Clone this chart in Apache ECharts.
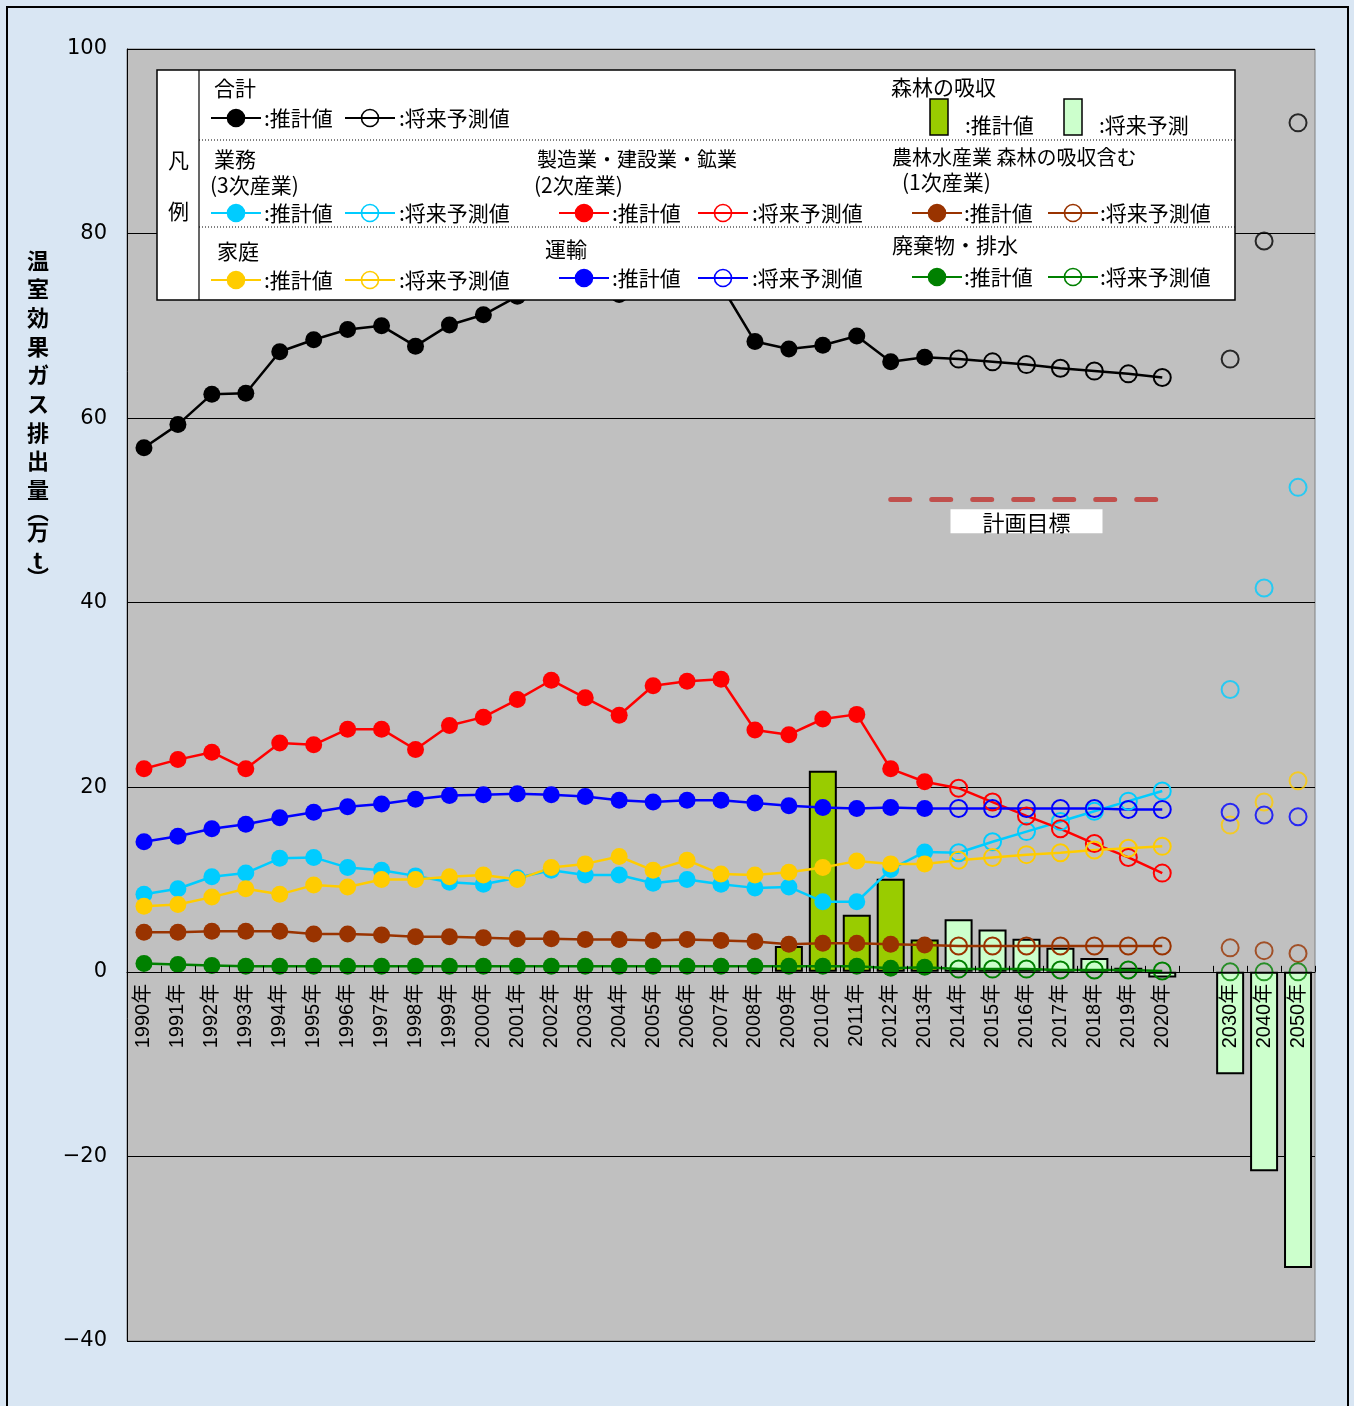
<!DOCTYPE html>
<html><head><meta charset="utf-8">
<script src="https://cdn.jsdelivr.net/npm/echarts@6/dist/echarts.min.js"></script>
<style>html,body{margin:0;padding:0;background:#d9e6f3}#c{width:1354px;height:1406px}</style>
</head><body><div id="c"></div><script>
// ---- data ----
const years = ['1990年','1991年','1992年','1993年','1994年','1995年','1996年','1997年','1998年','1999年',
  '2000年','2001年','2002年','2003年','2004年','2005年','2006年','2007年','2008年','2009年',
  '2010年','2011年','2012年','2013年','2014年','2015年','2016年','2017年','2018年','2019年','2020年',
  '','2030年','2040年','2050年'];
const total = [56.8,59.3,62.6,62.7,67.2,68.5,69.6,70.0,67.8,70.1,71.2,73.2,77.3,75.0,73.4,74.0,76.3,74.4,68.3,67.5,67.9,68.9,66.1,66.6,
  66.4,66.1,65.8,65.4,65.1,64.8,64.4, null,66.4,79.2,92.0];
const commercial = [8.4,9.0,10.3,10.7,12.3,12.4,11.3,11.0,10.4,9.7,9.5,10.2,11.0,10.5,10.5,9.6,10.0,9.5,9.1,9.2,7.6,7.6,11.1,13.0,
  12.9,14.1,15.2,16.3,17.4,18.5,19.6, null,30.6,41.6,52.5];
const manufacturing = [22.0,23.0,23.8,22.0,24.8,24.6,26.3,26.3,24.1,26.7,27.6,29.5,31.6,29.7,27.8,31.0,31.5,31.7,26.2,25.7,27.4,27.9,22.0,20.6,
  19.9,18.4,16.9,15.5,13.9,12.4,10.7, null,null,null,null];
const agriculture = [4.3,4.3,4.4,4.4,4.4,4.1,4.1,4.0,3.8,3.8,3.7,3.6,3.6,3.5,3.5,3.4,3.5,3.4,3.3,3.0,3.1,3.1,3.0,2.9,
  2.8,2.8,2.8,2.8,2.8,2.8,2.8, null,2.6,2.3,2.0];
const household = [7.1,7.3,8.1,9.0,8.4,9.4,9.2,10.0,10.0,10.3,10.5,10.0,11.3,11.7,12.5,11.0,12.1,10.6,10.5,10.8,11.3,12.0,11.7,11.7,
  12.1,12.4,12.7,12.9,13.2,13.4,13.6, null,15.9,18.4,20.7];
const transport = [14.1,14.7,15.5,16.0,16.7,17.3,17.9,18.2,18.7,19.1,19.2,19.3,19.2,19.0,18.6,18.4,18.6,18.6,18.3,18.0,17.8,17.7,17.8,17.7,
  17.7,17.7,17.7,17.7,17.7,17.6,17.6, null,17.3,17.0,16.8];
const waste = [0.9,0.8,0.7,0.6,0.6,0.6,0.6,0.6,0.6,0.6,0.6,0.6,0.6,0.6,0.6,0.6,0.6,0.6,0.6,0.6,0.6,0.6,0.4,0.5,
  0.3,0.3,0.3,0.2,0.2,0.2,0.1, null,0,0,0];
const forest = [null,null,null,null,null,null,null,null,null,null,null,null,null,null,null,null,null,null,null,
  2.8,21.8,6.2,10.1,3.5, 5.7,4.6,3.6,2.6,1.5,0.45,-0.6, null,-11.1,-21.6,-32.1];
const target = 51.2;
const targetFrom = '2012年', targetTo = '2020年';
const yMin = -40, yMax = 100, yStep = 20;
const lastEstimate = 23; // index of 2013年
const lastNear = 30;     // index of 2020年
const farStart = 32;     // index of 2030年

// ---- layout ----
const GRID = {left:127, right:39, top:49, bottom:65};
const plotH = 1406 - GRID.top - GRID.bottom;
const zeroOffset = -plotH * (0 - yMin) / (yMax - yMin);

// ---- styles ----
const sectors = [
  {name:'合計', data: total, color:'#000000'},
  {name:'業務', data: commercial, color:'#00ccff'},
  {name:'製造業・建設業・鉱業', data: manufacturing, color:'#ff0000'},
  {name:'農林水産業', data: agriculture, color:'#993300'},
  {name:'家庭', data: household, color:'#ffcc00'},
  {name:'運輸', data: transport, color:'#0000ff'},
  {name:'廃棄物・排水', data: waste, color:'#008000'}
];
const series = [];
series.push({
  type:'bar', name:'森林の吸収', z:2, barWidth:28,
  data: forest.map((v,i)=> v==null ? null : {value:v, itemStyle:{color: i<=lastEstimate ? '#99cc00' : '#ccffcc'}}),
  itemStyle:{borderColor:'#000', borderWidth:2},
  markLine:{silent:true, symbol:['none','none'], z:5,
    lineStyle:{color:'#c0504d', width:5, type:[19,22], cap:'round'},
    label:{show:true, position:'insideMiddleBottom', formatter:'計画目標', backgroundColor:'#fff', color:'#000',
      fontSize:22, fontFamily:'Noto Sans CJK JP', padding:[2,32,0,32], distance:10},
    data:[[{coord:[targetFrom,target]},{coord:[targetTo,target]}]]}
});
sectors.forEach((s,k)=>{
  series.push({
    type:'line', name:s.name+'推計値', z:6, showAllSymbol:true, symbol:'circle', symbolSize:17,
    data: s.data.map((v,i)=> i<=lastEstimate ? v : null),
    itemStyle:{color:s.color}, lineStyle:{color:s.color, width:2.5}
  });
  series.push({
    type:'line', name:s.name+'将来予測値', z:5, showAllSymbol:true, symbol:'circle', symbolSize:17,
    data: s.data.map((v,i)=> (i>=lastEstimate && i<=lastNear) ? (i===lastEstimate ? {value:v, symbol:'none'} : v) : null),
    itemStyle:{color:'rgba(0,0,0,0)', borderColor:s.color, borderWidth:2},
    lineStyle:{color:s.color, width:2.5}
  });
  series.push({
    type:'scatter', name:s.name+'長期', z:5, symbol:'circle', symbolSize:17,
    data: s.data.map((v,i)=> i>=farStart ? v : null),
    itemStyle:{color:'rgba(0,0,0,0)', borderColor:s.color, borderWidth:2}
  });
});

// ---- legend & decorations (graphic) ----
const G = [];
const FONT = '21px "Noto Sans CJK JP"';
function txt(x,y,s,font){ G.push({type:'text', x:x, y:y, z:101, style:{text:s, fill:'#000', font:font||FONT, align:'left', verticalAlign:'middle'}}); }
function sample(cx,cy,color,filled){
  G.push({type:'line', z:101, shape:{x1:cx-25,y1:cy,x2:cx+25,y2:cy}, style:{stroke:color, lineWidth:2}});
  G.push({type:'circle', z:102, shape:{cx:cx,cy:cy,r:8.5}, style:{fill: filled?color:'none', stroke:color, lineWidth:1.6}});
}
G.push({type:'rect', z:100, shape:{x:157,y:70,width:1078,height:230}, style:{fill:'#fff', stroke:'#000', lineWidth:1.5}});
G.push({type:'line', z:101, shape:{x1:199,y1:70,x2:199,y2:300}, style:{stroke:'#000', lineWidth:1.2}});
G.push({type:'line', z:101, shape:{x1:199,y1:140,x2:1235,y2:140}, style:{stroke:'#000', lineWidth:1, lineDash:[1,2]}});
G.push({type:'line', z:101, shape:{x1:199,y1:227,x2:1235,y2:227}, style:{stroke:'#000', lineWidth:1, lineDash:[1,2]}});
txt(168,160,'凡'); txt(168,211,'例');
// row 1
txt(214,88,'合計');
sample(236,118,'#000',true); txt(264,118,':推計値');
sample(370,118,'#000',false); txt(399,118,':将来予測値');
txt(891,87,'森林の吸収');
G.push({type:'rect', z:101, shape:{x:930,y:99,width:18,height:36}, style:{fill:'#99cc00', stroke:'#000', lineWidth:1.5}});
txt(965,125,':推計値');
G.push({type:'rect', z:101, shape:{x:1064,y:99,width:18,height:36}, style:{fill:'#ccffcc', stroke:'#000', lineWidth:1.5}});
txt(1099,125,':将来予測');
// row 2
txt(214,159,'業務'); txt(210,185,'(3次産業)');
sample(236,213,'#00ccff',true); txt(264,213,':推計値');
sample(370,213,'#00ccff',false); txt(399,213,':将来予測値');
txt(537,159,'製造業・建設業・鉱業','20px "Noto Sans CJK JP"'); txt(534,185,'(2次産業)');
sample(584,213,'#ff0000',true); txt(612,213,':推計値');
sample(723,213,'#ff0000',false); txt(752,213,':将来予測値');
txt(892,157,'農林水産業 森林の吸収含む','20px "Noto Sans CJK JP"'); txt(902,182,'(1次産業)');
sample(937,213,'#993300',true); txt(964,213,':推計値');
sample(1073,213,'#993300',false); txt(1100,213,':将来予測値');
// row 3
txt(217,251,'家庭');
sample(236,280,'#ffcc00',true); txt(264,280,':推計値');
sample(370,280,'#ffcc00',false); txt(399,280,':将来予測値');
txt(545,249,'運輸');
sample(584,278,'#0000ff',true); txt(612,278,':推計値');
sample(723,278,'#0000ff',false); txt(752,278,':将来予測値');
txt(892,245,'廃棄物・排水');
sample(937,277,'#008000',true); txt(964,277,':推計値');
sample(1073,277,'#008000',false); txt(1100,277,':将来予測値');
// y axis title (vertical)
const titleChars = ['温','室','効','果','ガ','ス','排','出','量','︵','万','t','︶'];
const titleY = [261,289,318,347,375,404,433,461,490,511,532,561,578];
titleChars.forEach((c,i)=> G.push({type:'text', x:38, y:titleY[i], z:101,
  style:{text:c, fill:'#000', font:'bold 22px "Noto Sans CJK JP"', align:'center', verticalAlign:'middle'}}));
// frame
G.push({type:'rect', z:103, shape:{x:7,y:7,width:1341,height:1420}, style:{fill:'none', stroke:'#000', lineWidth:2}});

const chart = echarts.init(document.getElementById('c'));
chart.setOption({
  animation:false,
  backgroundColor:'#d9e6f3',
  grid:{left:GRID.left, right:GRID.right, top:GRID.top, bottom:GRID.bottom, containLabel:false, outerBoundsMode:'none',
    show:true, backgroundColor:'#c0c0c0', borderColor:'#808080', borderWidth:1},
  xAxis:{type:'category', data:years, z:10, position:'bottom', offset:zeroOffset,
    axisLine:{onZero:false, lineStyle:{color:'#000', width:1}},
    axisTick:{show:true, inside:true, length:6, lineStyle:{color:'#000'}},
    axisLabel:{rotate:90, interval:0, fontSize:20, color:'#000', margin:12, fontFamily:'"Liberation Sans","Noto Sans CJK JP"'},
    splitLine:{show:false}},
  yAxis:{type:'value', min:yMin, max:yMax, interval:yStep,
    axisLine:{show:true, lineStyle:{color:'#000'}}, axisTick:{show:false},
    axisLabel:{fontSize:21, color:'#000', margin:20, fontFamily:'"DejaVu Sans"', formatter:v=> v<0 ? '−'+Math.abs(v) : String(v)},
    splitLine:{lineStyle:{color:'#000', width:1}}},
  graphic: G,
  series: series
});
</script></body></html>
